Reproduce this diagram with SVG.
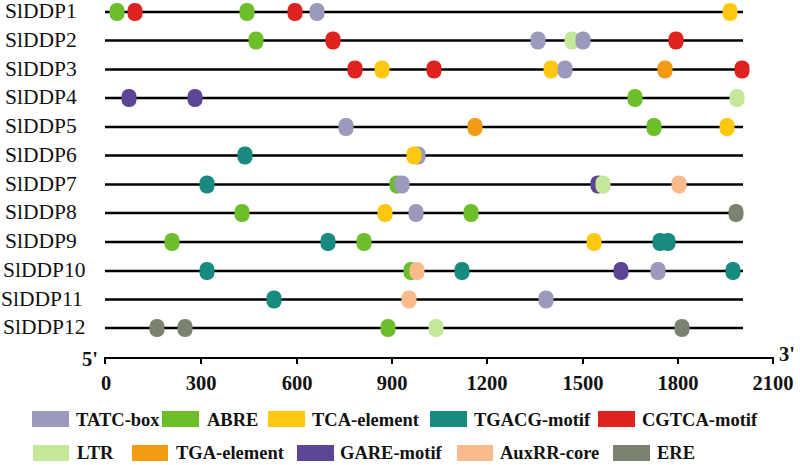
<svg xmlns="http://www.w3.org/2000/svg" xmlns:xlink="http://www.w3.org/1999/xlink" width="800" height="465" viewBox="0 0 800 465">
<style>
.lbl{font-family:"Liberation Serif","Times New Roman",serif;font-size:21.5px;fill:#111}
.ax{font-family:"Liberation Serif","Times New Roman",serif;font-size:20.5px;font-weight:bold;fill:#111}
.lg{font-family:"Liberation Serif","Times New Roman",serif;font-size:18.5px;font-weight:bold;fill:#111}
.trk{stroke:#000;stroke-width:2.6}
.axl{stroke:#000;stroke-width:2;fill:none}
.tatc{fill:#9b9abd}.abre{fill:#6cbf2a}.tca{fill:#fdc80f}.tgacg{fill:#188a80}.cgtca{fill:#e0221f}
.ltr{fill:#c5e79a}.tga{fill:#f39b12}.gare{fill:#5c4597}.aux{fill:#f9ba8c}.ere{fill:#7b8370}
</style>
<defs>
<rect id="m" x="-7.5" y="-9" width="15" height="18" rx="7" ry="7"/>
</defs>
<g id="rows">
<g id="SlDDP1"><text class="lbl" x="5" y="18">SlDDP1</text><line class="trk" x1="105" y1="12" x2="743" y2="12"/>
<use href="#m" x="117" y="12" class="abre"/><use href="#m" x="135" y="12" class="cgtca"/><use href="#m" x="247" y="12" class="abre"/><use href="#m" x="295" y="12" class="cgtca"/><use href="#m" x="317" y="12" class="tatc"/><use href="#m" x="730" y="12" class="tca"/></g>
<g id="SlDDP2"><text class="lbl" x="5" y="46.5">SlDDP2</text><line class="trk" x1="105" y1="40.5" x2="743" y2="40.5"/>
<use href="#m" x="256" y="40.5" class="abre"/><use href="#m" x="333" y="40.5" class="cgtca"/><use href="#m" x="538" y="40.5" class="tatc"/><use href="#m" x="572" y="40.5" class="ltr"/><use href="#m" x="583" y="40.5" class="tatc"/><use href="#m" x="676" y="40.5" class="cgtca"/></g>
<g id="SlDDP3"><text class="lbl" x="5" y="75.5">SlDDP3</text><line class="trk" x1="105" y1="69.5" x2="743" y2="69.5"/>
<use href="#m" x="355" y="69.5" class="cgtca"/><use href="#m" x="382" y="69.5" class="tca"/><use href="#m" x="434" y="69.5" class="cgtca"/><use href="#m" x="551" y="69.5" class="tca"/><use href="#m" x="565" y="69.5" class="tatc"/><use href="#m" x="665" y="69.5" class="tga"/><use href="#m" x="742" y="69.5" class="cgtca"/></g>
<g id="SlDDP4"><text class="lbl" x="5" y="104">SlDDP4</text><line class="trk" x1="105" y1="98" x2="743" y2="98"/>
<use href="#m" x="129" y="98" class="gare"/><use href="#m" x="195" y="98" class="gare"/><use href="#m" x="635" y="98" class="abre"/><use href="#m" x="737" y="98" class="ltr"/></g>
<g id="SlDDP5"><text class="lbl" x="5" y="133">SlDDP5</text><line class="trk" x1="105" y1="127" x2="743" y2="127"/>
<use href="#m" x="346" y="127" class="tatc"/><use href="#m" x="475" y="127" class="tga"/><use href="#m" x="654" y="127" class="abre"/><use href="#m" x="727" y="127" class="tca"/></g>
<g id="SlDDP6"><text class="lbl" x="5" y="161.5">SlDDP6</text><line class="trk" x1="105" y1="155.5" x2="743" y2="155.5"/>
<use href="#m" x="245" y="155.5" class="tgacg"/><use href="#m" x="418" y="155.5" class="tatc"/><use href="#m" x="414" y="155.5" class="tca"/></g>
<g id="SlDDP7"><text class="lbl" x="5" y="190.5">SlDDP7</text><line class="trk" x1="105" y1="184.5" x2="743" y2="184.5"/>
<use href="#m" x="207" y="184.5" class="tgacg"/><use href="#m" x="397" y="184.5" class="abre"/><use href="#m" x="402" y="184.5" class="tatc"/><use href="#m" x="598" y="184.5" class="gare"/><use href="#m" x="603" y="184.5" class="ltr"/><use href="#m" x="679" y="184.5" class="aux"/></g>
<g id="SlDDP8"><text class="lbl" x="5" y="219">SlDDP8</text><line class="trk" x1="105" y1="213" x2="743" y2="213"/>
<use href="#m" x="242" y="213" class="abre"/><use href="#m" x="385" y="213" class="tca"/><use href="#m" x="416" y="213" class="tatc"/><use href="#m" x="471" y="213" class="abre"/><use href="#m" x="736" y="213" class="ere"/></g>
<g id="SlDDP9"><text class="lbl" x="5" y="248">SlDDP9</text><line class="trk" x1="105" y1="242" x2="743" y2="242"/>
<use href="#m" x="172" y="242" class="abre"/><use href="#m" x="328" y="242" class="tgacg"/><use href="#m" x="364" y="242" class="abre"/><use href="#m" x="594" y="242" class="tca"/><use href="#m" x="660" y="242" class="tgacg"/><use href="#m" x="668" y="242" class="tgacg"/></g>
<g id="SlDDP10"><text class="lbl" x="3" y="277">SlDDP10</text><line class="trk" x1="105" y1="271" x2="743" y2="271"/>
<use href="#m" x="207" y="271" class="tgacg"/><use href="#m" x="411" y="271" class="abre"/><use href="#m" x="417" y="271" class="aux"/><use href="#m" x="462" y="271" class="tgacg"/><use href="#m" x="621" y="271" class="gare"/><use href="#m" x="658" y="271" class="tatc"/><use href="#m" x="733" y="271" class="tgacg"/></g>
<g id="SlDDP11"><text class="lbl" x="1" y="305.5">SlDDP11</text><line class="trk" x1="105" y1="299.5" x2="743" y2="299.5"/>
<use href="#m" x="274" y="299.5" class="tgacg"/><use href="#m" x="409" y="299.5" class="aux"/><use href="#m" x="546" y="299.5" class="tatc"/></g>
<g id="SlDDP12"><text class="lbl" x="3" y="334">SlDDP12</text><line class="trk" x1="105" y1="328" x2="743" y2="328"/>
<use href="#m" x="157" y="328" class="ere"/><use href="#m" x="185" y="328" class="ere"/><use href="#m" x="388" y="328" class="abre"/><use href="#m" x="436" y="328" class="ltr"/><use href="#m" x="682" y="328" class="ere"/></g>
</g>
<g id="axis">
<path class="axl" d="M105,364 V358 H773 V364 M201,358 V364 M297,358 V364 M392,358 V364 M487,358 V364 M583,358 V364 M678,358 V364"/>
<text class="ax" x="82" y="366">5'</text>
<text class="ax" x="779" y="361">3'</text>
<g class="ax" text-anchor="middle">
<text x="106" y="390">0</text><text x="201" y="390">300</text><text x="297" y="390">600</text><text x="392" y="390">900</text><text x="487" y="390">1200</text><text x="583" y="390">1500</text><text x="678" y="390">1800</text><text x="773" y="390">2100</text>
</g>
</g>
<g id="legend">
<rect class="tatc" x="32" y="411" width="37" height="16"/><text class="lg" x="76" y="426">TATC-box</text>
<rect class="abre" x="162" y="411" width="37" height="16"/><text class="lg" x="207" y="426">ABRE</text>
<rect class="tca" x="268" y="411" width="37" height="16"/><text class="lg" x="312" y="426">TCA-element</text>
<rect class="tgacg" x="430" y="411" width="37" height="16"/><text class="lg" x="474" y="426">TGACG-motif</text>
<rect class="cgtca" x="598" y="411" width="37" height="16"/><text class="lg" x="642" y="426">CGTCA-motif</text>
<rect class="ltr" x="33" y="445" width="36" height="16"/><text class="lg" x="77" y="459">LTR</text>
<rect class="tga" x="132" y="445" width="36" height="16"/><text class="lg" x="176" y="459">TGA-element</text>
<rect class="gare" x="297" y="445" width="37" height="16"/><text class="lg" x="340" y="459">GARE-motif</text>
<rect class="aux" x="457" y="445" width="36" height="16"/><text class="lg" x="500" y="459">AuxRR-core</text>
<rect class="ere" x="613" y="445" width="37" height="16"/><text class="lg" x="657" y="459">ERE</text>
</g>
</svg>
